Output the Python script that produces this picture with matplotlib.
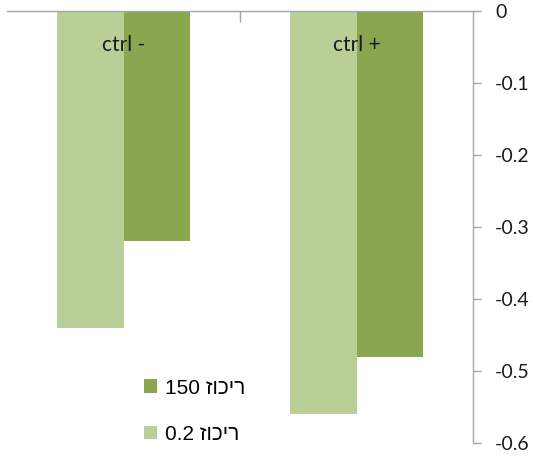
import numpy as np
import matplotlib
matplotlib.use("Agg")
import matplotlib.pyplot as plt

# values per control group
categories = ["ctrl -", "ctrl +"]
conc_02 = [-0.44, -0.56]
conc_150 = [-0.32, -0.48]
word = "ריכוז"
# no bidi in matplotlib, so hebrew goes in visual order
series_labels = ["150 " + word[::-1], "0.2 " + word[::-1]]
yticks = [0, -0.1, -0.2, -0.3, -0.4, -0.5, -0.6]

light = "#BACF98"
dark = "#8AA64E"
grey = "#A6A6A6"

fig = plt.figure(figsize=(5.33, 4.57), dpi=100)
ax = fig.add_axes([7 / 533, 14 / 457, 466 / 533, 432 / 457])

x = np.arange(len(categories))
w = 0.287
b1 = ax.bar(x - w / 2, conc_02, w, color=light, label=series_labels[1])
b2 = ax.bar(x + w / 2, conc_150, w, color=dark, label=series_labels[0])

ax.set_xlim(-0.5, 1.5)
ax.set_ylim(-0.6, 0)

# value axis on the right, category axis along the top (y = 0)
ax.yaxis.tick_right()
ax.set_yticks(yticks)
ax.set_yticklabels(["0" if v == 0 else f"{v:.1f}" for v in yticks],
                   fontsize=14, family=["Lato", "DejaVu Sans"], color="#1a1a1a")
ax.tick_params(axis="y", direction="out", length=6, width=1, color=grey, pad=10)
ax.set_xticks([0.5])
ax.set_xticklabels([""])
ax.xaxis.tick_top()
ax.tick_params(axis="x", direction="in", length=8, width=1, color=grey)

for s in ["left", "bottom"]:
    ax.spines[s].set_visible(False)
for s in ["right", "top"]:
    ax.spines[s].set_color(grey)
    ax.spines[s].set_linewidth(1)

for i, c in enumerate(categories):
    ax.text(i, -0.047, c, ha="center", va="center", fontsize=15,
            family=["Lato", "DejaVu Sans"], color="#1a1a1a")

leg = ax.legend(handles=[b2, b1], labels=series_labels, loc="upper left",
                bbox_to_anchor=(0.276, 0.168), frameon=False,
                handlelength=0.65, handleheight=0.65, handletextpad=0.35,
                labelspacing=1.3, borderaxespad=0,
                prop={"family": ["Liberation Sans", "DejaVu Sans"], "size": 15})

fig.savefig("out.png", dpi=100)
